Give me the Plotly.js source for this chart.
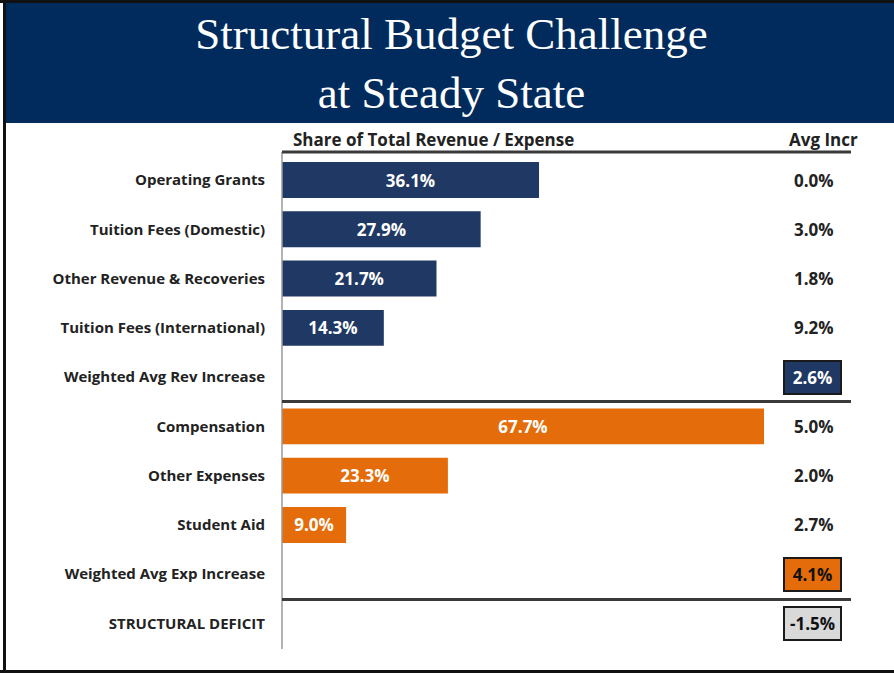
<!DOCTYPE html>
<html>
<head>
<meta charset="utf-8">
<script src="https://cdn.plot.ly/plotly-3.0.1.min.js"></script>
<style>html,body{margin:0;padding:0;background:#fff;}#chart{width:894px;height:673px;}</style>
</head>
<body>
<div id="chart"></div>
<script>
// ---- data ----
const categories = ["Operating Grants","Tuition Fees (Domestic)","Other Revenue & Recoveries","Tuition Fees (International)","Weighted Avg Rev Increase","Compensation","Other Expenses","Student Aid","Weighted Avg Exp Increase","STRUCTURAL DEFICIT"];
const revenueCats = ["Operating Grants","Tuition Fees (Domestic)","Other Revenue & Recoveries","Tuition Fees (International)"];
const revenueShare = [36.1, 27.9, 21.7, 14.3];
const expenseCats = ["Compensation","Other Expenses","Student Aid"];
const expenseShare = [67.7, 23.3, 9.0];
const avgIncr = [0.0, 3.0, 1.8, 9.2, 2.6, 5.0, 2.0, 2.7, 4.1, -1.5];
const titleText = "Structural Budget Challenge<br>at Steady State";
const shareHeader = "Share of Total Revenue / Expense";
const avgHeader = "Avg Incr";

// ---- layout geometry (pixels) ----
const W = 894, H = 673;
const L = 282, R = 860, T = 152, B = 651;
const pw = R - L, ph = B - T;
const px = x => (x - L) / pw;          // pixel x -> paper
const py = y => (B - y) / ph;          // pixel y -> paper

const NAVY = "#1f3864", ORANGE = "#e46c0a", HEAD = "#002b5c";
const labelFont = "Open Sans, Lato, sans-serif";

const barCommon = {
  type: "bar", orientation: "h", width: 0.73,
  texttemplate: "%{x:.1f}%", textposition: "inside", insidetextanchor: "middle",
  constraintext: "none",
  textfont: {family: labelFont, size: 17, color: "#ffffff", weight: "bold"},
  hoverinfo: "skip", showlegend: false
};
const traces = [
  Object.assign({}, barCommon, {y: revenueCats, x: revenueShare, marker: {color: NAVY}}),
  Object.assign({}, barCommon, {y: expenseCats, x: expenseShare, marker: {color: ORANGE}})
];

const boxed = {
  "Weighted Avg Rev Increase": {bg: NAVY, fg: "#ffffff"},
  "Weighted Avg Exp Increase": {bg: ORANGE, fg: "#111111"},
  "STRUCTURAL DEFICIT": {bg: "#d9d9d9", fg: "#111111"}
};

const annotations = categories.map((c, i) => {
  const st = boxed[c];
  const a = {
    xref: "paper", yref: "y", x: px(814), y: c,
    text: avgIncr[i].toFixed(1) + "%", showarrow: false,
    xanchor: "center", yanchor: "middle",
    font: {family: labelFont, size: 17, color: st ? st.fg : "#222222", weight: "bold"}
  };
  if (st) {
    Object.assign(a, {x: px(812), bgcolor: st.bg, bordercolor: "#1a1a1a", borderwidth: 2, width: 53, height: 29, borderpad: 1});
  }
  return a;
});
annotations.push({
  xref: "paper", yref: "paper", x: px(433), y: py(139), text: shareHeader, showarrow: false,
  xanchor: "center", yanchor: "middle",
  font: {family: labelFont, size: 17, color: "#222222", weight: "bold"}
});
annotations.push({
  xref: "paper", yref: "paper", x: px(823), y: py(139), text: avgHeader, showarrow: false,
  xanchor: "center", yanchor: "middle",
  font: {family: labelFont, size: 17, color: "#222222", weight: "bold"}
});

const hline = (y) => ({type: "line", xref: "paper", yref: "paper", x0: px(282), x1: px(851), y0: py(y), y1: py(y),
  line: {color: "#3a3a3a", width: 3}, layer: "above"});

const shapes = [
  // header band
  {type: "rect", xref: "paper", yref: "paper", x0: px(4), x1: px(894), y0: py(123), y1: py(2),
   fillcolor: HEAD, line: {width: 0}, layer: "below"},
  // outer frame: top, left, bottom
  {type: "line", xref: "paper", yref: "paper", x0: px(0), x1: px(894), y0: py(1.5), y1: py(1.5), line: {color: "#111", width: 3}},
  {type: "line", xref: "paper", yref: "paper", x0: px(4.5), x1: px(4.5), y0: py(0), y1: py(673), line: {color: "#111", width: 3}},
  {type: "line", xref: "paper", yref: "paper", x0: px(0), x1: px(894), y0: py(671.5), y1: py(671.5), line: {color: "#111", width: 3}},
  // vertical axis line
  {type: "line", xref: "paper", yref: "paper", x0: px(282), x1: px(282), y0: py(152), y1: py(649), line: {color: "#9a9a9a", width: 1.5}},
  hline(152), hline(401.5), hline(599.5)
];

const layout = {
  width: W, height: H,
  margin: {l: L, r: W - R, t: T, b: H - B, pad: 0},
  paper_bgcolor: "#ffffff", plot_bgcolor: "rgba(0,0,0,0)",
  title: {text: titleText, x: 0.505, xref: "container", xanchor: "center",
          y: 1 - 49/673, yref: "container", yanchor: "top",
          font: {family: "Liberation Serif, DejaVu Serif, serif", size: 45, color: "#ffffff"}},
  barmode: "overlay",
  hovermode: false,
  xaxis: {range: [0, pw / 7.12], showgrid: false, zeroline: false, showticklabels: false, ticks: "", fixedrange: true},
  yaxis: {type: "category", categoryorder: "array", categoryarray: categories,
          range: [9.56, -0.57], showgrid: false, zeroline: false, ticks: "",
          ticklabelstandoff: 16, fixedrange: true,
          tickfont: {family: labelFont, size: 15, color: "#222222", weight: "bold"}},
  shapes: shapes,
  annotations: annotations
};

Plotly.newPlot("chart", traces, layout, {displayModeBar: false, staticPlot: true});
</script>
</body>
</html>
